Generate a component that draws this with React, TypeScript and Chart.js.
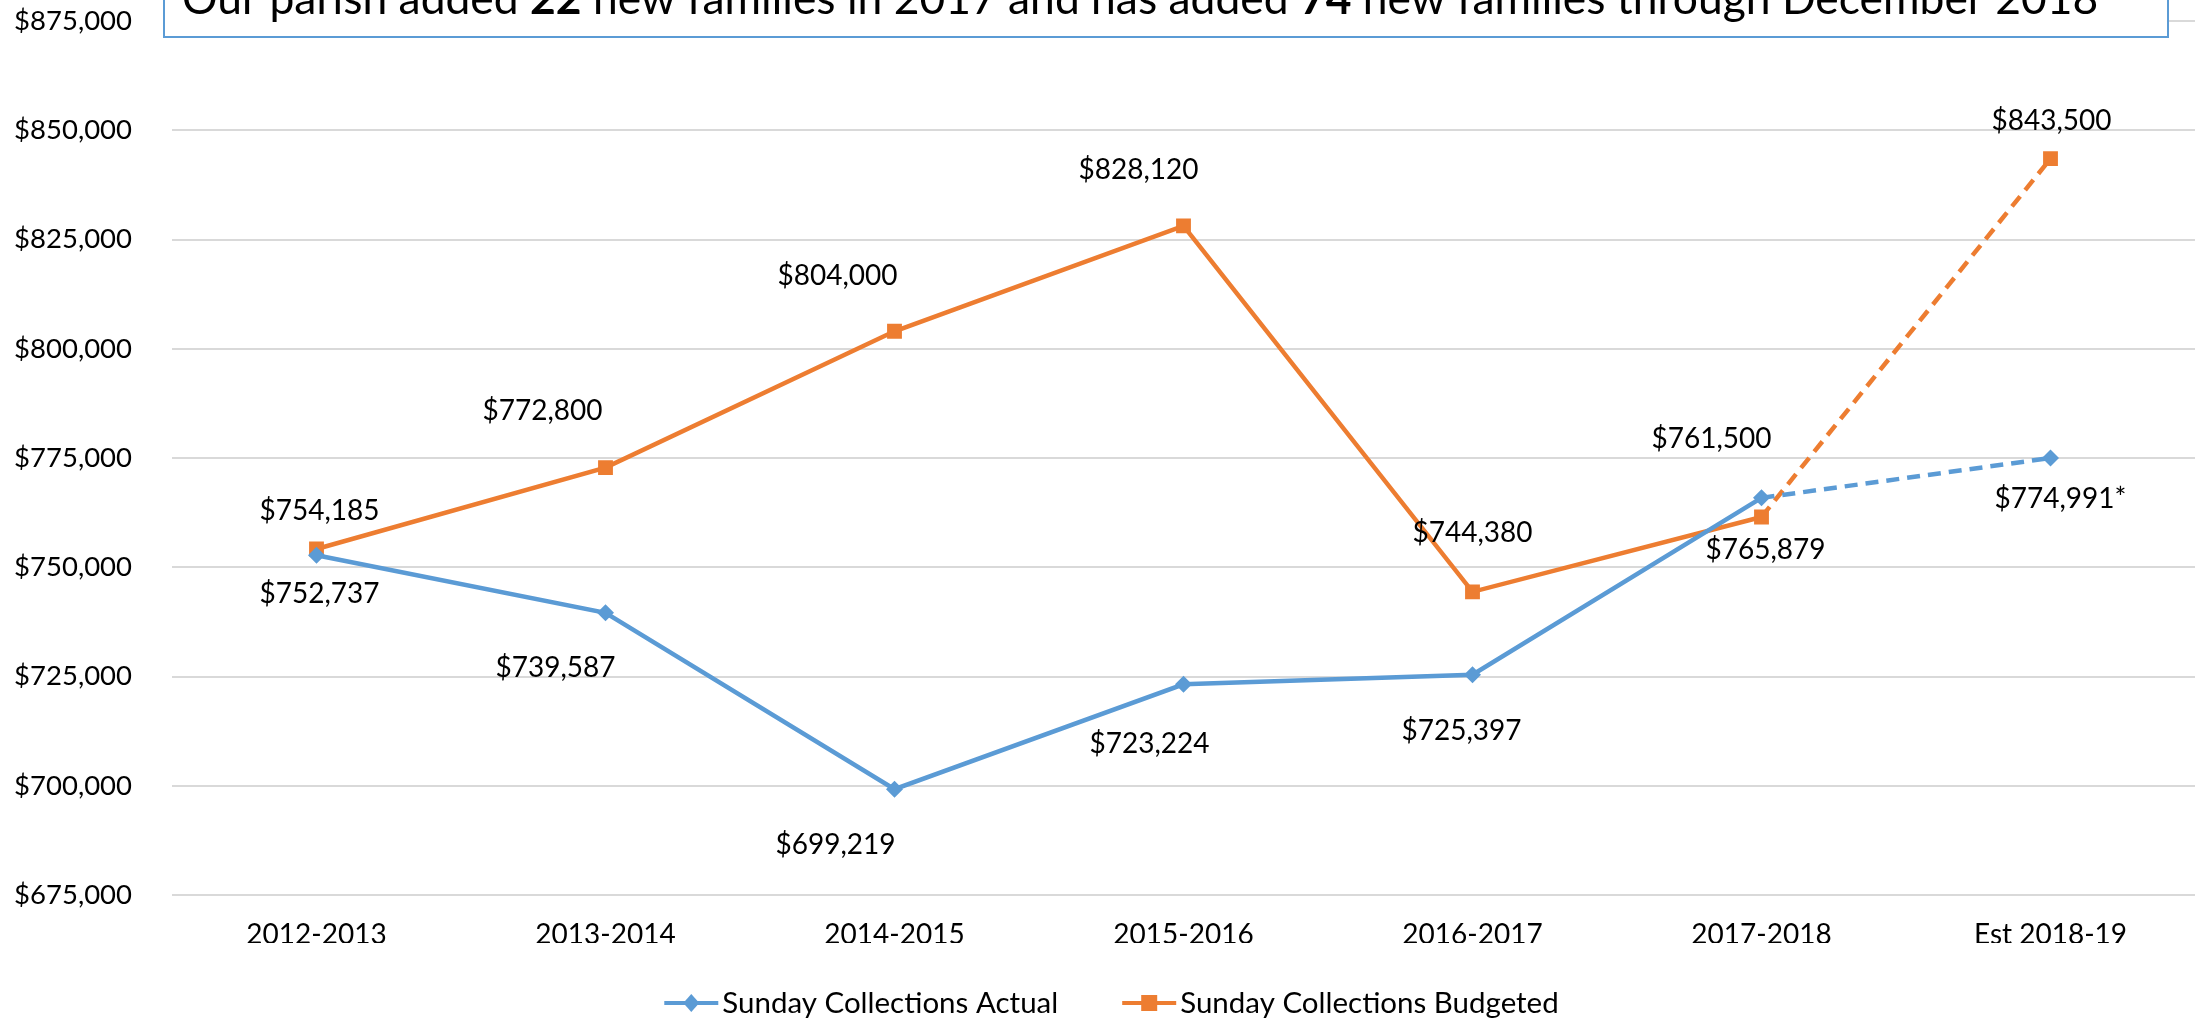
import React, { useEffect, useRef } from 'react';
import { Chart, registerables } from 'chart.js';

Chart.register(...registerables);

// ---- data ----
const categories = ['2012-2013', '2013-2014', '2014-2015', '2015-2016', '2016-2017', '2017-2018', 'Est 2018-19'];
const actualValues = [752737, 739587, 699219, 723224, 725397, 765879, 774991];
const budgetedValues = [754185, 772800, 804000, 828120, 744380, 761500, 843500];
const actualLabels = ['$752,737', '$739,587', '$699,219', '$723,224', '$725,397', '$765,879', '$774,991*'];
const budgetedLabels = ['$754,185', '$772,800', '$804,000', '$828,120', '$744,380', '$761,500', '$843,500'];
const seriesNames = ['Sunday Collections Actual', 'Sunday Collections Budgeted'];
const yMin = 675000;
const yMax = 875000;
const yStep = 25000;
const titleRuns = [
  { text: 'Our parish added ', bold: false },
  { text: '22', bold: true },
  { text: ' new families in 2017 and has added ', bold: false },
  { text: '74', bold: true },
  { text: ' new families through December 2018', bold: false },
];

// ---- styles ----
const BLUE = '#5B9BD5';
const ORANGE = '#ED7D31';
const FONT = 'Lato';
const FS = 27.5;
const LEGEND_FS = 29.5;
// label offsets (px) relative to each point
const actualLabelOffsets = [[3, 39], [-50, 55], [-59, 56], [-34, 60], [-11, 56], [4, 52], [10, 41]];
const budgetedLabelOffsets = [[3, -38], [-63, -57], [-57, -55], [-45, -56], [0, -59], [-50, -78], [1, -38]];

const fmt = (v: number) => '$' + v.toLocaleString('en-US');

const dataLabelPlugin = {
  id: 'dataLabels',
  afterDatasetsDraw(chart: any) {
    const ctx = chart.ctx;
    ctx.save();
    ctx.font = `28px ${FONT}`;
    ctx.fillStyle = '#000';
    ctx.textAlign = 'center';
    ctx.textBaseline = 'middle';
    const sets = [
      { labels: actualLabels, offs: actualLabelOffsets },
      { labels: budgetedLabels, offs: budgetedLabelOffsets },
    ];
    sets.forEach((s, di) => {
      const meta = chart.getDatasetMeta(di);
      meta.data.forEach((pt: any, i: number) => {
        ctx.fillText(s.labels[i], pt.x + s.offs[i][0], pt.y + s.offs[i][1]);
      });
    });
    ctx.restore();
  },
};

const titleLegendPlugin = {
  id: 'titleLegend',
  afterDraw(chart: any) {
    const ctx = chart.ctx;
    ctx.save();
    // title box
    const bx = 164, by = -40, bw = 2004, bh = 77;
    ctx.fillStyle = '#fff';
    ctx.fillRect(bx, by, bw, bh);
    ctx.strokeStyle = BLUE;
    ctx.lineWidth = 2;
    ctx.strokeRect(bx, by, bw, bh);
    let x = 182;
    ctx.fillStyle = '#000';
    ctx.textBaseline = 'alphabetic';
    ctx.textAlign = 'left';
    titleRuns.forEach((r) => {
      ctx.font = `${r.bold ? 'bold ' : ''}44.4px ${FONT}`;
      ctx.fillText(r.text, x, 14);
      x += ctx.measureText(r.text).width;
    });

    // legend
    ctx.font = `${LEGEND_FS}px ${FONT}`;
    const lineW = 54, gapText = 4, gapItems = 64;
    const w1 = ctx.measureText(seriesNames[0]).width;
    const w2 = ctx.measureText(seriesNames[1]).width;
    const total = lineW + gapText + w1 + gapItems + lineW + gapText + w2;
    let lx = chart.width / 2 + 14 - total / 2;
    const ly = 1003;
    const items = [
      { color: BLUE, name: seriesNames[0], w: w1, shape: 'diamond' },
      { color: ORANGE, name: seriesNames[1], w: w2, shape: 'square' },
    ];
    items.forEach((it) => {
      ctx.strokeStyle = it.color;
      ctx.lineWidth = 4;
      ctx.beginPath();
      ctx.moveTo(lx, ly);
      ctx.lineTo(lx + lineW, ly);
      ctx.stroke();
      ctx.fillStyle = it.color;
      const cx = lx + lineW / 2;
      ctx.beginPath();
      if (it.shape === 'diamond') {
        ctx.moveTo(cx, ly - 9);
        ctx.lineTo(cx + 8, ly);
        ctx.lineTo(cx, ly + 9);
        ctx.lineTo(cx - 8, ly);
        ctx.closePath();
      } else {
        ctx.rect(cx - 8, ly - 8, 16, 16);
      }
      ctx.fill();
      ctx.fillStyle = '#000';
      ctx.textBaseline = 'middle';
      ctx.fillText(it.name, lx + lineW + gapText, ly);
      lx += lineW + gapText + it.w + gapItems;
    });
    ctx.restore();
  },
};

export default function App() {
  const ref = useRef<HTMLCanvasElement | null>(null);
  useEffect(() => {
    if (!ref.current) return;
    const dash = (c: any) => (c.p1DataIndex === categories.length - 1 ? [13, 8] : undefined);
    const chart = new Chart(ref.current, {
      type: 'line',
      data: {
        labels: categories,
        datasets: [
          {
            label: seriesNames[0],
            data: actualValues,
            borderColor: BLUE,
            backgroundColor: BLUE,
            borderWidth: 4.5,
            pointStyle: 'rectRot',
            pointRadius: 8.5,
            pointBorderWidth: 0,
            pointBackgroundColor: BLUE,
            tension: 0,
            segment: { borderDash: dash },
          },
          {
            label: seriesNames[1],
            data: budgetedValues,
            borderColor: ORANGE,
            backgroundColor: ORANGE,
            borderWidth: 4.5,
            pointStyle: 'rect',
            pointRadius: 10.5,
            pointBorderWidth: 0,
            pointBackgroundColor: ORANGE,
            tension: 0,
            segment: { borderDash: dash },
          },
        ],
      },
      options: {
        responsive: false,
        animation: false,
        layout: { autoPadding: false, padding: { top: 21, bottom: 80, left: 0, right: 0 } },
        plugins: {
          legend: { display: false },
          title: { display: false },
          tooltip: { enabled: false },
        },
        scales: {
          x: {
            offset: true,
            grid: { display: false, drawTicks: false },
            border: { display: false },
            ticks: { color: '#000', font: { family: FONT, size: 28 }, padding: 23, maxRotation: 0 },
            afterFit: (s: any) => { s.height = 48; s.paddingLeft = 0; s.paddingRight = 0; },
          },
          y: {
            min: yMin,
            max: yMax,
            grid: { color: '#D9D9D9', lineWidth: 2, drawTicks: false },
            border: { display: false },
            ticks: {
              stepSize: yStep,
              color: '#000',
              font: { family: FONT, size: FS },
              padding: 40,
              callback: (v: any) => fmt(Number(v)),
            },
            afterFit: (s: any) => { s.width = 172; s.paddingTop = 0; s.paddingBottom = 0; },
          },
        },
      },
      plugins: [dataLabelPlugin, titleLegendPlugin],
    });
    return () => chart.destroy();
  }, []);
  return (
    <div style={{ position: 'absolute', left: 0, top: 0, width: 2195, height: 1023, background: '#fff' }}>
      <canvas ref={ref} width={2195} height={1023} style={{ display: 'block', width: 2195, height: 1023 }} />
    </div>
  );
}
